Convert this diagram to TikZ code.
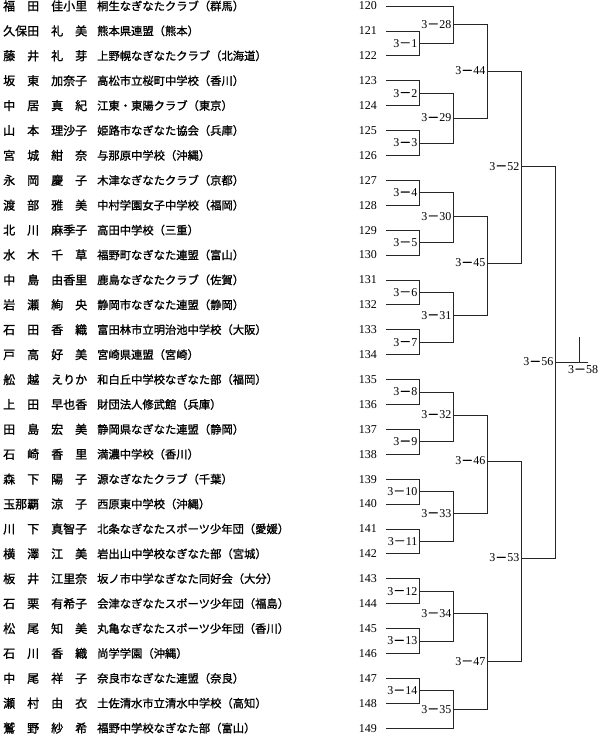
\documentclass[tikz,border=0pt]{standalone}
\usepackage{fontspec}
\setmainfont{Liberation Serif}
\newfontfamily\jpfont{Noto Sans CJK JP}[FakeBold=1.2]

\usetikzlibrary{calc,positioning}

\newcommand{\mbar}{{\jpfont －}}

\begin{document}
\begin{tikzpicture}[
		x=1pt,
		y=-1pt,
		line join=miter,
		bracket/.style={line width=0.75pt, black!85},
		entrant/.style={anchor=west, inner sep=0pt, font=\jpfont\fontsize{12}{12}\selectfont},
		club/.style={anchor=west, inner sep=0pt, font=\jpfont\fontsize{11.3}{12}\selectfont},
		seed/.style={anchor=east, inner sep=0pt, font=\fontsize{12}{12}\selectfont},
		match/.style={anchor=east, inner sep=1.5pt, font=\fontsize{12}{12}\selectfont}
		]
		
		\useasboundingbox (0,0) rectangle (600,739);
		
		%------------------------------------------------------------------
		% Entrants: name, club, number and line start
		%------------------------------------------------------------------
		\foreach \n/\who/\from [count=\i from 0] in {
			120/福　田　佳小里/桐生なぎなたクラブ（群馬）,
			121/久保田　礼　美/熊本県連盟（熊本）,
			122/藤　井　礼　芽/上野幌なぎなたクラブ（北海道）,
			123/坂　東　加奈子/高松市立桜町中学校（香川）,
			124/中　居　真　紀/江東・東陽クラブ（東京）,
			125/山　本　理沙子/姫路市なぎなた協会（兵庫）,
			126/宮　城　紺　奈/与那原中学校（沖縄）,
			127/永　岡　慶　子/木津なぎなたクラブ（京都）,
			128/渡　部　雅　美/中村学園女子中学校（福岡）,
			129/北　川　麻季子/高田中学校（三重）,
			130/水　木　千　草/福野町なぎなた連盟（富山）,
			131/中　島　由香里/鹿島なぎなたクラブ（佐賀）,
			132/岩　瀬　絢　央/静岡市なぎなた連盟（静岡）,
			133/石　田　香　織/富田林市立明治池中学校（大阪）,
			134/戸　高　好　美/宮崎県連盟（宮崎）,
			135/舩　越　えりか/和白丘中学校なぎなた部（福岡）,
			136/上　田　早也香/財団法人修武館（兵庫）,
			137/田　島　宏　美/静岡県なぎなた連盟（静岡）,
			138/石　崎　香　里/満濃中学校（香川）,
			139/森　下　陽　子/源なぎなたクラブ（千葉）,
			140/玉那覇　涼　子/西原東中学校（沖縄）,
			141/川　下　真智子/北条なぎなたスポーツ少年団（愛媛）,
			142/横　澤　江　美/岩出山中学校なぎなた部（宮城）,
			143/板　井　江里奈/坂ノ市中学なぎなた同好会（大分）,
			144/石　栗　有希子/会津なぎなたスポーツ少年団（福島）,
			145/松　尾　知　美/丸亀なぎなたスポーツ少年団（香川）,
			146/石　川　香　織/尚学学園（沖縄）,
			147/中　尾　祥　子/奈良市なぎなた連盟（奈良）,
			148/瀬　村　由　衣/土佐清水市立清水中学校（高知）,
			149/鷲　野　紗　希/福野中学校なぎなた部（富山）}{
			\node[entrant] (nm\n) at (3, {6+24.9*\i}) {\who};
			\node[club]    (c\n)  at (97, {6+24.9*\i}) {\from};
			\node[seed]    (n\n)  at (377, {6+24.9*\i}) {\n};
			\coordinate    (a\n)  at (386, {6+24.9*\i});
		}
		
		%------------------------------------------------------------------
		% First round: 3-1 ... 3-14
		%------------------------------------------------------------------
		\foreach \k in {1,...,14}{
			\pgfmathtruncatemacro\t{119+2*\k}
			\pgfmathtruncatemacro\b{120+2*\k}
			\coordinate (p\k) at ($(a\t)!0.5!(a\b)+(33,0)$);
			\draw[bracket] (a\t) -| (p\k);
			\draw[bracket] (a\b) -| (p\k);
			\node[match] (m\k) at (p\k) {3\mbar\k};
		}
		
		%------------------------------------------------------------------
		% Later rounds
		%------------------------------------------------------------------
		\coordinate (p28) at (453,  24.5);
		\coordinate (p29) at (453, 118.0);
		\coordinate (p30) at (453, 216.5);
		\coordinate (p31) at (453, 315.5);
		\coordinate (p32) at (453, 415.0);
		\coordinate (p33) at (453, 513.5);
		\coordinate (p34) at (453, 613.5);
		\coordinate (p35) at (453, 709.4);
		
		\coordinate (p44) at (487,  71.0);
		\coordinate (p45) at (487, 263.0);
		\coordinate (p46) at (487, 461.0);
		\coordinate (p47) at (487, 661.5);
		
		\coordinate (p52) at (521, 166.5);
		\coordinate (p53) at (521, 558.0);
		
		\coordinate (p56) at (555, 362.0);
		
		\coordinate (fin) at (588, 362.0);
		\coordinate (t58) at (579, 337.0);
		
		\draw[bracket] (a120) -| (p28);  \draw[bracket] (p1)  -| (p28);
		\draw[bracket] (p2)   -| (p29);  \draw[bracket] (p3)  -| (p29);
		\draw[bracket] (p4)   -| (p30);  \draw[bracket] (p5)  -| (p30);
		\draw[bracket] (p6)   -| (p31);  \draw[bracket] (p7)  -| (p31);
		\draw[bracket] (p8)   -| (p32);  \draw[bracket] (p9)  -| (p32);
		\draw[bracket] (p10)  -| (p33);  \draw[bracket] (p11) -| (p33);
		\draw[bracket] (p12)  -| (p34);  \draw[bracket] (p13) -| (p34);
		\draw[bracket] (p14)  -| (p35);  \draw[bracket] (a149) -| (p35);
		
		\draw[bracket] (p28) -| (p44);  \draw[bracket] (p29) -| (p44);
		\draw[bracket] (p30) -| (p45);  \draw[bracket] (p31) -| (p45);
		\draw[bracket] (p32) -| (p46);  \draw[bracket] (p33) -| (p46);
		\draw[bracket] (p34) -| (p47);  \draw[bracket] (p35) -| (p47);
		
		\draw[bracket] (p44) -| (p52);  \draw[bracket] (p45) -| (p52);
		\draw[bracket] (p46) -| (p53);  \draw[bracket] (p47) -| (p53);
		
		\draw[bracket] (p52) -| (p56);  \draw[bracket] (p53) -| (p56);
		
		% final
		\draw[bracket] (p56) -- (fin);
		\draw[bracket] (t58) -- (t58 |- p56);
		
		%------------------------------------------------------------------
		% Match labels
		%------------------------------------------------------------------
		\foreach \k in {28,...,35}{
			\node[match] (m\k) at (p\k) {3\mbar\k};
		}
		\foreach \k in {44,...,47}{
			\node[match] (m\k) at (p\k) {3\mbar\k};
		}
		\node[match] (m52) at (p52) {3\mbar52};
		\node[match] (m53) at (p53) {3\mbar53};
		\node[match] (m56) at (p56) {3\mbar56};
		\node[match, anchor=north] (m58) at (583, 364) {3\mbar58};
		
	\end{tikzpicture}
\end{document}
